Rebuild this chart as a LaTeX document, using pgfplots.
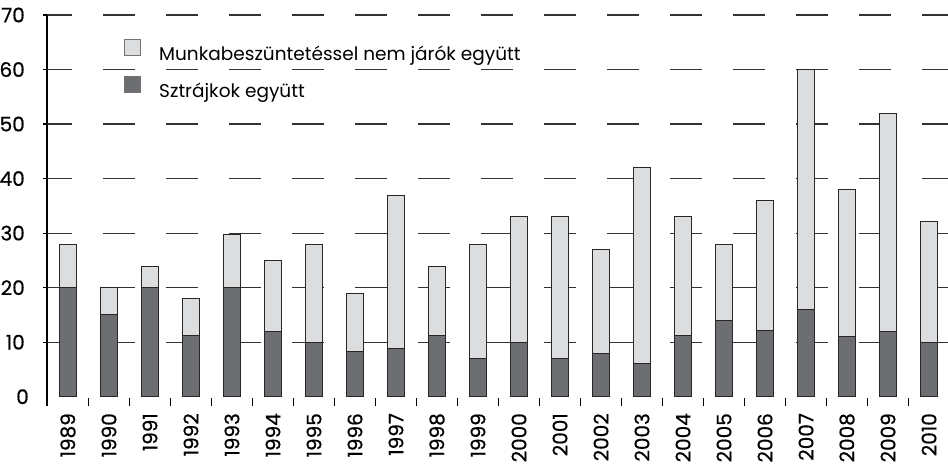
\documentclass[border=0pt]{standalone}
\usepackage{fontspec}
\setmainfont{Poppins}
\newfontfamily\tickfont{Poppins}[FakeBold=0.6]
\usepackage{pgfplots}
\pgfplotsset{compat=1.18}
\definecolor{lightbar}{HTML}{DCDDDE}
\definecolor{darkbar}{HTML}{6D6E71}

% index, dark = sztrajkok, light = munkabeszuntetessel nem jarok
\pgfplotstableread{
x  dark  light
0  20    8
1  15    5
2  20    3.8
3  11.2  6.8
4  20    9.8
5  12    13
6  10    18
7  8.2   10.8
8  8.9   28
9  11.2  12.6
10 7     21
11 10    23
12 7     26
13 8     19
14 6     36.1
15 11.2  21.8
16 14    14
17 12.1  23.8
18 16    44
19 11    27
20 12    39.9
21 10    22.1
}\strikes

\begin{document}
\begin{tikzpicture}
\begin{axis}[
  scale only axis, width=901pt, height=383pt,
  xmin=-0.512, xmax=21.463, ymin=-0.24, ymax=70,
  ybar stacked, bar width=0.415,
  axis x line*=bottom, axis y line*=left,
  x axis line style={draw=none},
  y axis line style={line width=1.2pt, black, shorten <=-8pt},
  tick align=outside,
  major tick length=4pt, minor tick length=8pt,
  xtick={0,...,21},
  xticklabels={1989,1990,1991,1992,1993,1994,1995,1996,1997,1998,1999,2000,2001,2002,2003,2004,2005,2006,2007,2008,2009,2010},
  minor xtick={0.5,1.5,...,20.5},
  major x tick style={draw=none},
  minor x tick style={line width=1.2pt, black},
  ytick={10,20,...,70},
  extra y ticks={0},
  extra y tick style={grid=none, major tick length=0pt},
  ytick style={line width=1.2pt, black},
  ymajorgrids,
  major grid style={black!80, line width=1.2pt, dash pattern=on 32pt off 31pt, dash phase=7pt},
  /pgf/number format/assume math mode=true,
  ticklabel style={font=\tickfont\fontsize{20}{20}\selectfont, inner sep=0pt},
  xticklabel style={rotate=90, anchor=east},
  xticklabel shift=11pt,
  yticklabel shift=18pt,
  reverse legend,
  every axis plot post/.append style={legend image code/.code={\draw[##1, draw=black!55] (0pt,-1.7pt) rectangle (16pt,14.3pt);}},
  legend style={draw=none, fill=none, at={(0.0855,0.937)}, anchor=north west,
    inner sep=0pt, row sep=14pt, column sep=0pt,
    nodes={inner sep=0pt}, font=\fontsize{18.5}{18.5}\selectfont},
  legend cell align=left,
]
\addplot[fill=darkbar, draw=black!85, line width=1pt] table[x=x, y=dark] {\strikes};
\addplot[fill=lightbar, draw=black!85, line width=1pt] table[x=x, y=light] {\strikes};
\legend{\hspace{18pt}Sztrájkok együtt, \hspace{18pt}Munkabeszüntetéssel nem járók együtt}
\coordinate (sw) at (rel axis cs:0,0);
\coordinate (ne) at (rel axis cs:1,1);
\end{axis}
\pgfresetboundingbox
\path ([xshift=-47pt,yshift=-71pt]sw) rectangle ([yshift=15pt]ne);
\end{tikzpicture}
\end{document}
